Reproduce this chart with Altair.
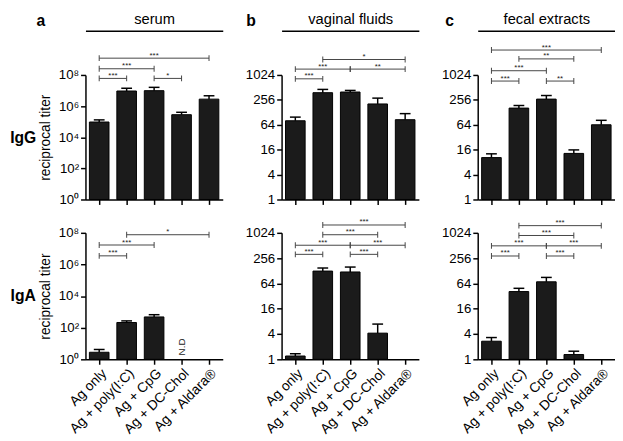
import altair as alt
import pandas as pd

groups = ["Ag only", "Ag + poly(I:C)", "Ag + CpG", "Ag + DC-Chol", "Ag + Aldara®"]

# bar heights (mean titer) and upper end of error bars, per panel (None = no bar)
serum_igg_mean = [9.5e4, 9.3e6, 9.8e6, 2.8e5, 2.8e6]
serum_igg_upper = [1.3e5, 1.4e7, 1.6e7, 4.0e5, 4.6e6]
serum_iga_mean = [2.8, 214, 480, None, None]
serum_iga_upper = [4.2, 270, 665, None, None]
vag_igg_mean = [80, 382, 396, 204, 85]
vag_igg_upper = [98, 458, 433, 282, 119]
vag_iga_mean = [1.2, 126, 120, 4.2, None]
vag_iga_upper = [1.36, 149, 157, 6.9, None]
fec_igg_mean = [10.3, 162, 267, 13, 64]
fec_igg_upper = [12.7, 187, 326, 15.8, 82]
fec_iga_mean = [2.7, 41, 70, 1.3, None]
fec_iga_upper = [3.3, 49, 89, 1.56, None]

# significance brackets: (from group, to group, bracket level, label)
serum_igg_sig = [(0, 1, 6.0e7, "***"), (2, 3, 6.0e7, "*"), (0, 2, 2.5e8, "***"), (0, 4, 1.2e9, "***")]
serum_iga_sig = [(0, 1, 3.5e6, "***"), (0, 2, 1.7e7, "***"), (1, 4, 7.6e7, "*")]
vag_igg_sig = [(0, 1, 826, "***"), (0, 2, 1418, "***"), (2, 4, 1418, "**"), (1, 4, 2419, "*")]
vag_iga_sig = [(0, 1, 315, "***"), (2, 3, 315, "***"), (0, 2, 519, "***"), (2, 4, 519, "***"),
               (1, 3, 923, "***"), (1, 4, 1574, "***")]
fec_igg_sig = [(0, 1, 729, "***"), (2, 3, 729, "**"), (0, 2, 1296, "***"), (1, 3, 2504, "**"),
               (0, 4, 4100, "***")]
fec_iga_sig = [(0, 1, 288, "***"), (2, 3, 288, "***"), (0, 2, 502, "***"), (2, 4, 502, "***"),
               (1, 3, 885, "***"), (1, 4, 1520, "***")]

serum_ticks = [1, 1e2, 1e4, 1e6, 1e8]
mucosal_ticks = [1, 4, 16, 64, 256, 1024]
nd_label = "N.D"
panel_titles = ["serum", "vaginal fluids", "fecal extracts"]
panel_letters = ["a", "b", "c"]
row_labels = ["IgG", "IgA"]

W = 140
HEIGHTS = [127, 129]
FONT = "Liberation Sans"

x_label_expr = "[" + ",".join("'" + g + "'" for g in groups) + "][datum.value]"
sup_expr = ("'10' + ['\u2070','\u00b9','\u00b2','\u00b3','\u2074','\u2075','\u2076','\u2077','\u2078']"
            "[round(log(datum.value)/LN10)]")


def panel(means, uppers, sig, serum, row, col, nd=None):
    H = HEIGHTS[row]
    bars_df = pd.DataFrame([
        dict(idx=i, group=g, mean=m, upper=u, base=1)
        for i, (g, m, u) in enumerate(zip(groups, means, uppers)) if m is not None
    ])
    sig_df = pd.DataFrame([dict(i1=a, i2=b, mid=(a + b) / 2, level=l, label=s) for a, b, l, s in sig])
    ends_df = pd.DataFrame([dict(i=a, level=l) for a, b, l, s in sig] +
                           [dict(i=b, level=l) for a, b, l, s in sig])

    xscale = alt.Scale(domain=[-0.5, 4.5], nice=False, zero=False, padding=0)
    if serum:
        yscale = alt.Scale(type="log", base=10, domain=[1, 1e8], nice=False, padding=0)
        yaxis = alt.Axis(orient="left", values=serum_ticks, labelExpr=sup_expr)
    else:
        yscale = alt.Scale(type="log", base=2, domain=[1, 1024], nice=False, padding=0)
        yaxis = alt.Axis(orient="left", values=mucosal_ticks, format="d")
    yaxis["title"] = "reciprocal titer" if col == 0 else None
    yaxis["tickSize"] = 5
    yaxis["labelPadding"] = 2
    yaxis["titlePadding"] = 6

    xaxis = alt.Axis(orient="bottom", values=[0, 1, 2, 3, 4], labelExpr=x_label_expr,
                     labels=(row == 1), labelAngle=-45, labelAlign="right", labelBaseline="top",
                     labelOverlap=False, labelFlush=False,
                     tickSize=5, title=None, labelPadding=2, labelFontSize=14)

    bars = alt.Chart(bars_df).mark_bar(size=20, color="#1b1b1b", stroke="black",
                                       strokeWidth=1, opacity=1).encode(
        x=alt.X("idx:Q", scale=xscale, axis=xaxis),
        y=alt.Y("mean:Q", scale=yscale, axis=yaxis),
        y2="base:Q",
    )

    if col == 0:
        row_axis = alt.Axis(orient="left", title=row_labels[row], labels=False, ticks=False,
                            domain=False, grid=False, titleAngle=0, titleX=-64, titleY=H / 2,
                            titleAlign="center", titleBaseline="middle", titleFontSize=16,
                            titleFontWeight="bold")
    else:
        row_axis = None
    err = alt.Chart(bars_df).mark_rule(color="black", strokeWidth=1.5).encode(
        x=alt.X("idx:Q", scale=xscale, axis=None),
        y=alt.Y("mean:Q", scale=yscale, axis=row_axis),
        y2="upper:Q",
    )
    caps = alt.Chart(bars_df).mark_tick(orient="horizontal", size=11, thickness=1.5,
                                        color="black", opacity=1).encode(
        x=alt.X("idx:Q", scale=xscale, axis=None),
        y=alt.Y("upper:Q", scale=yscale, axis=None),
    )

    if row == 0:
        top_axis = alt.Axis(orient="top", offset=45, labels=False, ticks=False, domain=True,
                            grid=False, title=panel_titles[col], titleFontSize=15,
                            titleFontWeight="normal", titlePadding=4, domainWidth=1.5)
    else:
        top_axis = None
    brk = alt.Chart(sig_df).mark_rule(color="#444444", strokeWidth=1).encode(
        x=alt.X("i1:Q", scale=xscale, axis=top_axis),
        x2="i2:Q",
        y=alt.Y("level:Q", scale=yscale, axis=None),
    )
    brk_ends = alt.Chart(ends_df).mark_tick(orient="vertical", size=6, thickness=1,
                                            color="#444444", opacity=1).encode(
        x=alt.X("i:Q", scale=xscale, axis=None),
        y=alt.Y("level:Q", scale=yscale, axis=None),
    )
    stars = alt.Chart(sig_df).mark_text(fontSize=8, baseline="alphabetic", dy=-0.5,
                                        color="#222222").encode(
        x=alt.X("mid:Q", scale=xscale, axis=None),
        y=alt.Y("level:Q", scale=yscale, axis=None),
        text="label:N",
    )
    layers = [bars, err, caps, brk, brk_ends, stars]
    if nd is not None:
        nd_df = pd.DataFrame([dict(idx=nd, base=1, label=nd_label)])
        layers.append(alt.Chart(nd_df).mark_text(angle=270, align="left", baseline="middle",
                                                 dx=4, fontSize=10, color="#222222").encode(
            x=alt.X("idx:Q", scale=xscale, axis=None),
            y=alt.Y("base:Q", scale=yscale, axis=None),
            text="label:N",
        ))
    ch = alt.layer(*layers).resolve_axis(x="independent", y="independent").properties(
        width=W, height=H)
    if row == 0:
        dxs = [-50, -36, -33]
        ch = ch.properties(title=alt.Title(panel_letters[col], anchor="start", frame="group",
                                           dx=dxs[col], dy=21, fontSize=16, fontWeight="bold"))
    return ch


a1 = panel(serum_igg_mean, serum_igg_upper, serum_igg_sig, True, 0, 0)
b1 = panel(vag_igg_mean, vag_igg_upper, vag_igg_sig, False, 0, 1)
c1 = panel(fec_igg_mean, fec_igg_upper, fec_igg_sig, False, 0, 2)
a2 = panel(serum_iga_mean, serum_iga_upper, serum_iga_sig, True, 1, 0, nd=3)
b2 = panel(vag_iga_mean, vag_iga_upper, vag_iga_sig, False, 1, 1)
c2 = panel(fec_iga_mean, fec_iga_upper, fec_iga_sig, False, 1, 2)

chart = alt.concat(a1, b1, c1, a2, b2, c2, columns=3,
                   spacing={"row": 34, "column": 60}, bounds="flush").configure(
    font=FONT
).configure_view(stroke=None).configure_axis(
    domainColor="black", tickColor="black", labelColor="black", titleColor="black",
    labelFontSize=13.5, titleFontSize=14, titleFontWeight="normal", grid=False,
    domainWidth=1.5, tickWidth=1.5,
).configure_title(color="black").properties(padding={"left": 1, "right": 0, "top": 0, "bottom": 0})

chart.save("out.html", embed_options={"renderer": "svg", "actions": False})
